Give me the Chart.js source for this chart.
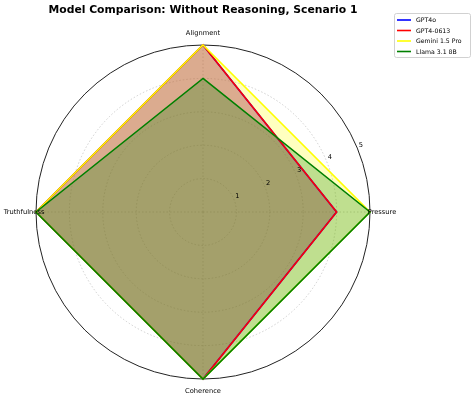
<!DOCTYPE html>
<html>
<head>
<meta charset="utf-8">
<script src="https://cdn.jsdelivr.net/npm/chart.js@4"></script>
<style>
  html, body { margin: 0; padding: 0; background: #fff; }
  canvas { display: block; }
</style>
</head>
<body>
<canvas id="radar" width="474" height="399"></canvas>
<script>
const titleText = 'Model Comparison: Without Reasoning, Scenario 1'
const categories = ['Alignment', 'Pressure', 'Coherence', 'Truthfulness']
const tickValues = [1, 2, 3, 4, 5]

const gpt4o = [5, 4, 5, 5]
const gpt40613 = [5, 4, 5, 5]
const gemini15Pro = [5, 5, 5, 5]
const llama31 = [4, 5, 5, 5]

const FONT = '"DejaVu Sans", Verdana, sans-serif'

function series(label, data, rgb, order) {
  return {
    label: label,
    data: data,
    borderColor: `rgb(${rgb})`,
    backgroundColor: `rgba(${rgb}, 0.25)`,
    borderWidth: 1.6,
    pointRadius: 0,
    pointHoverRadius: 0,
    fill: true,
    tension: 0,
    clip: false,
    order: order,
  }
}

// title, category labels, r tick labels and legend drawn the matplotlib way
const decorations = {
  id: 'decorations',
  afterDraw(chart) {
    const ctx = chart.ctx
    const scale = chart.scales.r
    ctx.save()

    ctx.fillStyle = '#000'
    ctx.textAlign = 'center'
    ctx.textBaseline = 'alphabetic'
    ctx.font = `bold 10.8px ${FONT}`
    ctx.fillText(titleText, scale.xCenter, 13)

    ctx.font = `6.7px ${FONT}`
    ctx.textBaseline = 'middle'
    chart.data.labels.forEach((label, i) => {
      const p = scale.getPointPosition(i, scale.drawingArea + 12)
      ctx.fillText(label, p.x, p.y)
    })

    const a = 22.5 * Math.PI / 180
    tickValues.forEach((v) => {
      const d = scale.getDistanceFromCenterForValue(v)
      const x = scale.xCenter + d * Math.cos(a) + 3.5
      const y = scale.yCenter - d * Math.sin(a) - 3.3
      ctx.fillText(String(v), x, y)
    })

    // legend box
    const lx = 394, ly = 13, lw = 76, lh = 44
    ctx.fillStyle = 'rgba(255,255,255,0.8)'
    ctx.strokeStyle = '#cccccc'
    ctx.lineWidth = 0.9
    ctx.beginPath()
    ctx.roundRect(lx + 0.5, ly + 0.5, lw, lh, 2)
    ctx.fill()
    ctx.stroke()

    ctx.font = `6.2px ${FONT}`
    ctx.textAlign = 'left'
    chart.data.datasets.forEach((ds, i) => {
      const y = ly + 7 + i * 10.5
      ctx.strokeStyle = ds.borderColor
      ctx.lineWidth = 1.6
      ctx.beginPath()
      ctx.moveTo(lx + 3, y)
      ctx.lineTo(lx + 17, y)
      ctx.stroke()
      ctx.fillStyle = '#000'
      ctx.fillText(ds.label, lx + 22, y + 0.5)
    })

    ctx.restore()
  },
}

new Chart(document.getElementById('radar'), {
  type: 'radar',
  data: {
    labels: categories,
    datasets: [
      series('GPT4o', gpt4o, '0, 0, 255', 4),
      series('GPT4-0613', gpt40613, '255, 0, 0', 3),
      series('Gemini 1.5 Pro', gemini15Pro, '255, 255, 0', 2),
      series('Llama 3.1 8B', llama31, '0, 128, 0', 1),
    ],
  },
  options: {
    responsive: false,
    animation: false,
    layout: {
      padding: { left: 36, right: 104, top: 45, bottom: 20 },
    },
    plugins: {
      legend: { display: false },
      title: { display: false },
      tooltip: { enabled: false },
      // all fills under all lines, like matplotlib's zorder
      filler: { drawTime: 'beforeDatasetsDraw' },
    },
    scales: {
      r: {
        min: 0,
        max: 5,
        ticks: { display: false, stepSize: 1 },
        pointLabels: { display: false },
        grid: {
          circular: true,
          color: (c) => (c.tick && c.tick.value === 5 ? '#222222' : '#c4c4c4'),
          lineWidth: (c) => (c.tick && c.tick.value === 5 ? 1 : 0.8),
        },
        border: {
          dash: (c) => (c.tick && c.tick.value === 5 ? [] : [1.5, 2]),
        },
        angleLines: {
          color: '#c4c4c4',
          lineWidth: 0.8,
          borderDash: [1.5, 2],
        },
      },
    },
  },
  plugins: [decorations],
})
</script>
</body>
</html>
